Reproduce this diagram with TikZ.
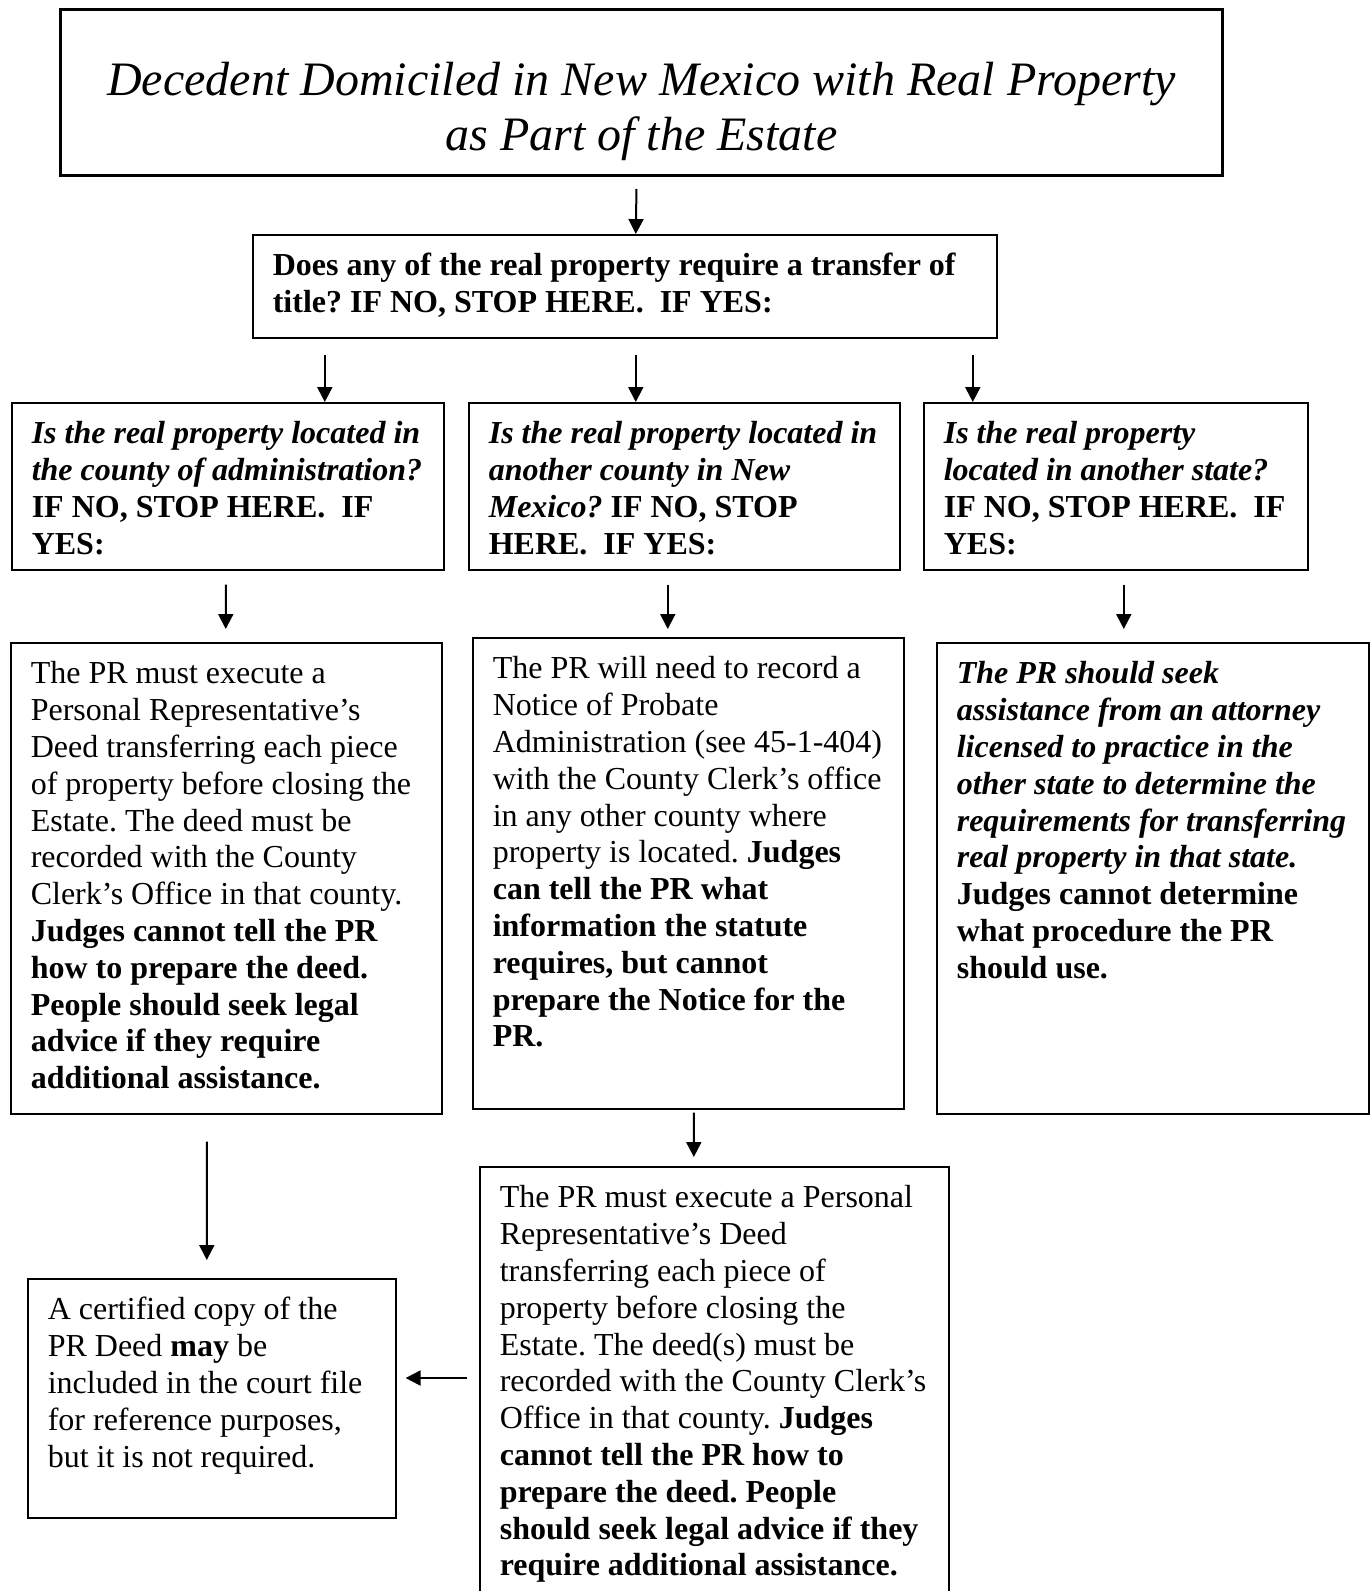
\documentclass[tikz,border=0pt]{standalone}
\usepackage{fontspec}
\setmainfont{Liberation Serif}
\usetikzlibrary{calc,arrows.meta}

% text block of a box: width, height, lines
\newcommand{\boxtext}[3]{\parbox[t][#2][t]{#1}{\frenchspacing\rightskip=-20pt plus 1fil\strut\rule{0pt}{10.8pt}#3}}

\tikzset{
    flowbox/.style={draw, line width=0.6pt, anchor=north west,
        inner xsep=7.5pt, inner ysep=4.6pt,
        font=\fontsize{12pt}{13.8pt}\selectfont},
    titlebox/.style={flowbox, line width=1.1pt,
        font=\fontsize{18pt}{20.5pt}\selectfont\itshape},
    flowarrow/.style={-{Triangle[length=5.6pt,width=5.6pt]}, line width=0.75pt}
}

\begin{document}
\begin{tikzpicture}[x=0.375pt,y=-0.375pt]
  % Page
    \useasboundingbox (0,0) rectangle (1370,1591);

  % Boxes
    \node[titlebox] (title) at (59,8) {\boxtext{420.75pt}{53.05pt}{\centering\rule{0pt}{27.65pt}Decedent Domiciled in New Mexico with Real Property\\ as Part of the Estate}};

    \node[flowbox] (q0) at (252,234) {\boxtext{264pt}{29.4pt}{\bfseries Does any of the real property require a transfer of\\ title? IF NO, STOP HERE.\ \ IF YES:}};

    \node[flowbox] (q1) at (11,402) {\boxtext{147pt}{53.4pt}{\bfseries\itshape Is the real property located in\\ the county of administration?\\ \upshape IF NO, STOP HERE.\ \ IF\\ YES:}};
    \node[flowbox] (q2) at (468,402) {\boxtext{146.6pt}{53.4pt}{\bfseries\itshape Is the real property located in\\ another county in New\\ Mexico? \upshape IF NO, STOP\\ HERE.\ \ IF YES:}};
    \node[flowbox] (q3) at (923,402) {\boxtext{129pt}{53.4pt}{\bfseries\itshape Is the real property\\ located in another state?\\ \upshape IF NO, STOP HERE.\ \ IF\\ YES:}};

    \node[flowbox] (a1) at (10,642) {\boxtext{146.6pt}{167.4pt}{The PR must execute a\\ Personal Representative's\\ Deed transferring each piece\\ of property before closing the\\ Estate. The deed must be\\ recorded with the County\\ Clerk's Office in that county.\\ \bfseries Judges cannot tell the PR\\ how to prepare the deed.\\ People should seek legal\\ advice if they require\\ additional assistance.}};
    \node[flowbox] (a2) at (472,637) {\boxtext{146.6pt}{167.4pt}{The PR will need to record a\\ Notice of Probate\\ Administration (see 45-1-404)\\ with the County Clerk's office\\ in any other county where\\ property is located. \bfseries Judges\\ can tell the PR what\\ information the statute\\ requires, but cannot\\ prepare the Notice for the\\ PR.}};
    \node[flowbox] (a3) at (936,642) {\boxtext{147pt}{167.4pt}{\bfseries\itshape The PR should seek\\ assistance from an attorney\\ licensed to practice in the\\ other state to determine the\\ requirements for transferring\\ real property in that state.\\ \upshape Judges cannot determine\\ what procedure the PR\\ should use.}};

    \node[flowbox] (cert) at (27,1278) {\boxtext{123pt}{80.4pt}{A certified copy of the\\ PR Deed \textbf{may} be\\ included in the court file\\ for reference purposes,\\ but it is not required.}};
    \node[flowbox] (deed) at (479,1166) {\boxtext{160.9pt}{176pt}{The PR must execute a Personal\\ Representative's Deed\\ transferring each piece of\\ property before closing the\\ Estate. The deed(s) must be\\ recorded with the County Clerk's\\ Office in that county. \bfseries Judges\\ cannot tell the PR how to\\ prepare the deed. People\\ should seek legal advice if they\\ require additional assistance.}};

  % Arrows
    \draw[flowarrow] ($(title.south)+(-5,12)$) -- ($(q0.north)+(11,0)$);
    \draw[flowarrow] ($(q0.south -| q1.north)+(97,16)$) -- ($(q1.north)+(97,0)$);
    \draw[flowarrow] ($(q0.south -| q2.north)+(-48.5,16)$) -- ($(q2.north)+(-48.5,0)$);
    \draw[flowarrow] ($(q0.south -| q3.north)+(-143,16)$) -- ($(q3.north)+(-143,0)$);
    \draw[flowarrow] ($(q1.south)+(-2,14)$) -- ($(a1.north)+(-0.5,-13)$);
    \draw[flowarrow] ($(q2.south)+(-16.5,14)$) -- ($(a2.north)+(-20.5,-8)$);
    \draw[flowarrow] ($(q3.south)+(8,14)$) -- ($(a3.north)+(-29,-13)$);
    \draw[flowarrow] ($(a1.south)+(-19.5,27)$) -- ($(cert.north)+(-5,-18)$);
    \draw[flowarrow] ($(a2.south)+(5.5,3)$) -- ($(deed.north)+(-20.5,-9)$);
    \draw[flowarrow] ($(deed.north west)+(-12,212)$) -- ($(cert.north east)+(9,100)$);
\end{tikzpicture}
\end{document}
